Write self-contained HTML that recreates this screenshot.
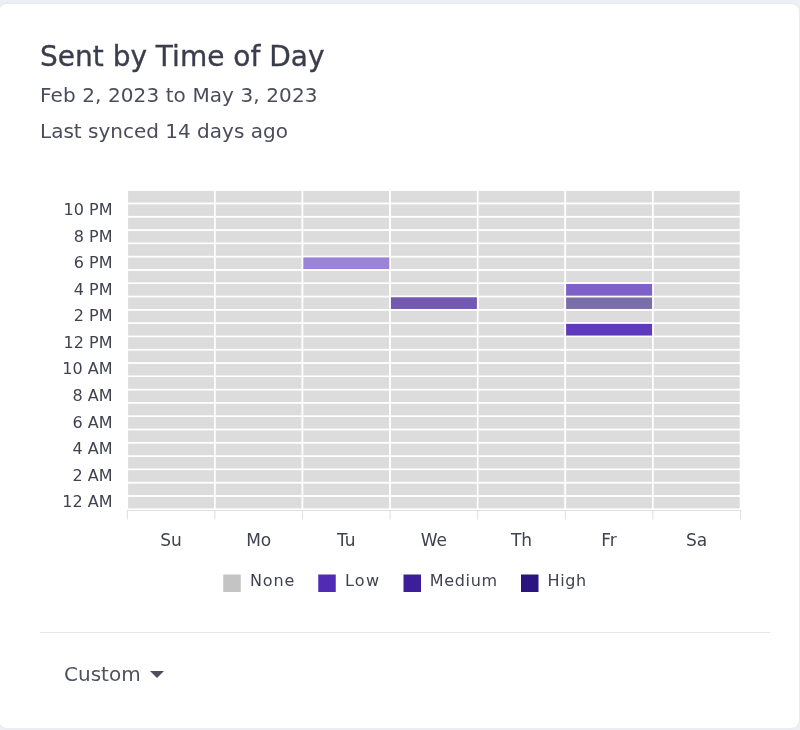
<!DOCTYPE html>
<html><head><meta charset="utf-8"><title>Sent by Time of Day</title>
<style>
html,body{margin:0;padding:0;}
body{width:800px;height:730px;background:#eff0f7;overflow:hidden;position:relative;font-family:"DejaVu Sans","Liberation Sans",sans-serif;color:#3d3e4d;}
.card{position:absolute;left:-1px;top:3.5px;width:800px;height:724.5px;background:#fff;border-radius:8px;box-shadow:0 0 4px rgba(70,70,120,0.07);}
.t{position:absolute;left:40px;white-space:nowrap;margin:0;}
h1.t{-webkit-text-stroke:0.35px #3c3d4c;top:36.8px;font-size:28px;line-height:40px;font-weight:500;color:#3c3d4c;}
.s1{letter-spacing:0.1px;top:83.4px;font-size:20px;line-height:24px;color:#4b4c5b;}
.s2{top:119.4px;font-size:20px;line-height:24px;color:#4b4c5b;}
svg{position:absolute;left:0;top:0;}
svg text{font-family:"DejaVu Sans","Liberation Sans",sans-serif;font-size:16px;fill:#414250;}
svg .xl text{font-size:17px;}
.hr{position:absolute;left:40px;top:632px;width:730px;height:1px;background:#e7e7ea;}
.custom{top:662px;left:64px;font-size:20px;line-height:24px;color:#50515f;}
.caret{position:absolute;left:150.3px;top:670.6px;width:0;height:0;border-left:7.2px solid transparent;border-right:7.2px solid transparent;border-top:7.4px solid #4e4d5c;}
</style></head><body>
<div class="card"></div>
<h1 class="t">Sent by Time of Day</h1>
<p class="t s1">Feb 2, 2023 to May 3, 2023</p>
<p class="t s2">Last synced 14 days ago</p>
<svg width="800" height="730" viewBox="0 0 800 730">
<g stroke="#fff" stroke-width="1.6">
<rect x="127.30" y="495.90" width="87.60" height="13.30" fill="#dcdcdc"/>
<rect x="127.30" y="482.61" width="87.60" height="13.30" fill="#dcdcdc"/>
<rect x="127.30" y="469.31" width="87.60" height="13.30" fill="#dcdcdc"/>
<rect x="127.30" y="456.02" width="87.60" height="13.30" fill="#dcdcdc"/>
<rect x="127.30" y="442.72" width="87.60" height="13.30" fill="#dcdcdc"/>
<rect x="127.30" y="429.42" width="87.60" height="13.30" fill="#dcdcdc"/>
<rect x="127.30" y="416.13" width="87.60" height="13.30" fill="#dcdcdc"/>
<rect x="127.30" y="402.83" width="87.60" height="13.30" fill="#dcdcdc"/>
<rect x="127.30" y="389.54" width="87.60" height="13.30" fill="#dcdcdc"/>
<rect x="127.30" y="376.24" width="87.60" height="13.30" fill="#dcdcdc"/>
<rect x="127.30" y="362.95" width="87.60" height="13.30" fill="#dcdcdc"/>
<rect x="127.30" y="349.65" width="87.60" height="13.30" fill="#dcdcdc"/>
<rect x="127.30" y="336.35" width="87.60" height="13.30" fill="#dcdcdc"/>
<rect x="127.30" y="323.06" width="87.60" height="13.30" fill="#dcdcdc"/>
<rect x="127.30" y="309.76" width="87.60" height="13.30" fill="#dcdcdc"/>
<rect x="127.30" y="296.47" width="87.60" height="13.30" fill="#dcdcdc"/>
<rect x="127.30" y="283.17" width="87.60" height="13.30" fill="#dcdcdc"/>
<rect x="127.30" y="269.88" width="87.60" height="13.30" fill="#dcdcdc"/>
<rect x="127.30" y="256.58" width="87.60" height="13.30" fill="#dcdcdc"/>
<rect x="127.30" y="243.28" width="87.60" height="13.30" fill="#dcdcdc"/>
<rect x="127.30" y="229.99" width="87.60" height="13.30" fill="#dcdcdc"/>
<rect x="127.30" y="216.69" width="87.60" height="13.30" fill="#dcdcdc"/>
<rect x="127.30" y="203.40" width="87.60" height="13.30" fill="#dcdcdc"/>
<rect x="127.30" y="190.10" width="87.60" height="13.30" fill="#dcdcdc"/>
<rect x="214.90" y="495.90" width="87.60" height="13.30" fill="#dcdcdc"/>
<rect x="214.90" y="482.61" width="87.60" height="13.30" fill="#dcdcdc"/>
<rect x="214.90" y="469.31" width="87.60" height="13.30" fill="#dcdcdc"/>
<rect x="214.90" y="456.02" width="87.60" height="13.30" fill="#dcdcdc"/>
<rect x="214.90" y="442.72" width="87.60" height="13.30" fill="#dcdcdc"/>
<rect x="214.90" y="429.42" width="87.60" height="13.30" fill="#dcdcdc"/>
<rect x="214.90" y="416.13" width="87.60" height="13.30" fill="#dcdcdc"/>
<rect x="214.90" y="402.83" width="87.60" height="13.30" fill="#dcdcdc"/>
<rect x="214.90" y="389.54" width="87.60" height="13.30" fill="#dcdcdc"/>
<rect x="214.90" y="376.24" width="87.60" height="13.30" fill="#dcdcdc"/>
<rect x="214.90" y="362.95" width="87.60" height="13.30" fill="#dcdcdc"/>
<rect x="214.90" y="349.65" width="87.60" height="13.30" fill="#dcdcdc"/>
<rect x="214.90" y="336.35" width="87.60" height="13.30" fill="#dcdcdc"/>
<rect x="214.90" y="323.06" width="87.60" height="13.30" fill="#dcdcdc"/>
<rect x="214.90" y="309.76" width="87.60" height="13.30" fill="#dcdcdc"/>
<rect x="214.90" y="296.47" width="87.60" height="13.30" fill="#dcdcdc"/>
<rect x="214.90" y="283.17" width="87.60" height="13.30" fill="#dcdcdc"/>
<rect x="214.90" y="269.88" width="87.60" height="13.30" fill="#dcdcdc"/>
<rect x="214.90" y="256.58" width="87.60" height="13.30" fill="#dcdcdc"/>
<rect x="214.90" y="243.28" width="87.60" height="13.30" fill="#dcdcdc"/>
<rect x="214.90" y="229.99" width="87.60" height="13.30" fill="#dcdcdc"/>
<rect x="214.90" y="216.69" width="87.60" height="13.30" fill="#dcdcdc"/>
<rect x="214.90" y="203.40" width="87.60" height="13.30" fill="#dcdcdc"/>
<rect x="214.90" y="190.10" width="87.60" height="13.30" fill="#dcdcdc"/>
<rect x="302.50" y="495.90" width="87.60" height="13.30" fill="#dcdcdc"/>
<rect x="302.50" y="482.61" width="87.60" height="13.30" fill="#dcdcdc"/>
<rect x="302.50" y="469.31" width="87.60" height="13.30" fill="#dcdcdc"/>
<rect x="302.50" y="456.02" width="87.60" height="13.30" fill="#dcdcdc"/>
<rect x="302.50" y="442.72" width="87.60" height="13.30" fill="#dcdcdc"/>
<rect x="302.50" y="429.42" width="87.60" height="13.30" fill="#dcdcdc"/>
<rect x="302.50" y="416.13" width="87.60" height="13.30" fill="#dcdcdc"/>
<rect x="302.50" y="402.83" width="87.60" height="13.30" fill="#dcdcdc"/>
<rect x="302.50" y="389.54" width="87.60" height="13.30" fill="#dcdcdc"/>
<rect x="302.50" y="376.24" width="87.60" height="13.30" fill="#dcdcdc"/>
<rect x="302.50" y="362.95" width="87.60" height="13.30" fill="#dcdcdc"/>
<rect x="302.50" y="349.65" width="87.60" height="13.30" fill="#dcdcdc"/>
<rect x="302.50" y="336.35" width="87.60" height="13.30" fill="#dcdcdc"/>
<rect x="302.50" y="323.06" width="87.60" height="13.30" fill="#dcdcdc"/>
<rect x="302.50" y="309.76" width="87.60" height="13.30" fill="#dcdcdc"/>
<rect x="302.50" y="296.47" width="87.60" height="13.30" fill="#dcdcdc"/>
<rect x="302.50" y="283.17" width="87.60" height="13.30" fill="#dcdcdc"/>
<rect x="302.50" y="269.88" width="87.60" height="13.30" fill="#dcdcdc"/>
<rect x="302.50" y="243.28" width="87.60" height="13.30" fill="#dcdcdc"/>
<rect x="302.50" y="229.99" width="87.60" height="13.30" fill="#dcdcdc"/>
<rect x="302.50" y="216.69" width="87.60" height="13.30" fill="#dcdcdc"/>
<rect x="302.50" y="203.40" width="87.60" height="13.30" fill="#dcdcdc"/>
<rect x="302.50" y="190.10" width="87.60" height="13.30" fill="#dcdcdc"/>
<rect x="390.10" y="495.90" width="87.60" height="13.30" fill="#dcdcdc"/>
<rect x="390.10" y="482.61" width="87.60" height="13.30" fill="#dcdcdc"/>
<rect x="390.10" y="469.31" width="87.60" height="13.30" fill="#dcdcdc"/>
<rect x="390.10" y="456.02" width="87.60" height="13.30" fill="#dcdcdc"/>
<rect x="390.10" y="442.72" width="87.60" height="13.30" fill="#dcdcdc"/>
<rect x="390.10" y="429.42" width="87.60" height="13.30" fill="#dcdcdc"/>
<rect x="390.10" y="416.13" width="87.60" height="13.30" fill="#dcdcdc"/>
<rect x="390.10" y="402.83" width="87.60" height="13.30" fill="#dcdcdc"/>
<rect x="390.10" y="389.54" width="87.60" height="13.30" fill="#dcdcdc"/>
<rect x="390.10" y="376.24" width="87.60" height="13.30" fill="#dcdcdc"/>
<rect x="390.10" y="362.95" width="87.60" height="13.30" fill="#dcdcdc"/>
<rect x="390.10" y="349.65" width="87.60" height="13.30" fill="#dcdcdc"/>
<rect x="390.10" y="336.35" width="87.60" height="13.30" fill="#dcdcdc"/>
<rect x="390.10" y="323.06" width="87.60" height="13.30" fill="#dcdcdc"/>
<rect x="390.10" y="309.76" width="87.60" height="13.30" fill="#dcdcdc"/>
<rect x="390.10" y="283.17" width="87.60" height="13.30" fill="#dcdcdc"/>
<rect x="390.10" y="269.88" width="87.60" height="13.30" fill="#dcdcdc"/>
<rect x="390.10" y="256.58" width="87.60" height="13.30" fill="#dcdcdc"/>
<rect x="390.10" y="243.28" width="87.60" height="13.30" fill="#dcdcdc"/>
<rect x="390.10" y="229.99" width="87.60" height="13.30" fill="#dcdcdc"/>
<rect x="390.10" y="216.69" width="87.60" height="13.30" fill="#dcdcdc"/>
<rect x="390.10" y="203.40" width="87.60" height="13.30" fill="#dcdcdc"/>
<rect x="390.10" y="190.10" width="87.60" height="13.30" fill="#dcdcdc"/>
<rect x="477.70" y="495.90" width="87.60" height="13.30" fill="#dcdcdc"/>
<rect x="477.70" y="482.61" width="87.60" height="13.30" fill="#dcdcdc"/>
<rect x="477.70" y="469.31" width="87.60" height="13.30" fill="#dcdcdc"/>
<rect x="477.70" y="456.02" width="87.60" height="13.30" fill="#dcdcdc"/>
<rect x="477.70" y="442.72" width="87.60" height="13.30" fill="#dcdcdc"/>
<rect x="477.70" y="429.42" width="87.60" height="13.30" fill="#dcdcdc"/>
<rect x="477.70" y="416.13" width="87.60" height="13.30" fill="#dcdcdc"/>
<rect x="477.70" y="402.83" width="87.60" height="13.30" fill="#dcdcdc"/>
<rect x="477.70" y="389.54" width="87.60" height="13.30" fill="#dcdcdc"/>
<rect x="477.70" y="376.24" width="87.60" height="13.30" fill="#dcdcdc"/>
<rect x="477.70" y="362.95" width="87.60" height="13.30" fill="#dcdcdc"/>
<rect x="477.70" y="349.65" width="87.60" height="13.30" fill="#dcdcdc"/>
<rect x="477.70" y="336.35" width="87.60" height="13.30" fill="#dcdcdc"/>
<rect x="477.70" y="323.06" width="87.60" height="13.30" fill="#dcdcdc"/>
<rect x="477.70" y="309.76" width="87.60" height="13.30" fill="#dcdcdc"/>
<rect x="477.70" y="296.47" width="87.60" height="13.30" fill="#dcdcdc"/>
<rect x="477.70" y="283.17" width="87.60" height="13.30" fill="#dcdcdc"/>
<rect x="477.70" y="269.88" width="87.60" height="13.30" fill="#dcdcdc"/>
<rect x="477.70" y="256.58" width="87.60" height="13.30" fill="#dcdcdc"/>
<rect x="477.70" y="243.28" width="87.60" height="13.30" fill="#dcdcdc"/>
<rect x="477.70" y="229.99" width="87.60" height="13.30" fill="#dcdcdc"/>
<rect x="477.70" y="216.69" width="87.60" height="13.30" fill="#dcdcdc"/>
<rect x="477.70" y="203.40" width="87.60" height="13.30" fill="#dcdcdc"/>
<rect x="477.70" y="190.10" width="87.60" height="13.30" fill="#dcdcdc"/>
<rect x="565.30" y="495.90" width="87.60" height="13.30" fill="#dcdcdc"/>
<rect x="565.30" y="482.61" width="87.60" height="13.30" fill="#dcdcdc"/>
<rect x="565.30" y="469.31" width="87.60" height="13.30" fill="#dcdcdc"/>
<rect x="565.30" y="456.02" width="87.60" height="13.30" fill="#dcdcdc"/>
<rect x="565.30" y="442.72" width="87.60" height="13.30" fill="#dcdcdc"/>
<rect x="565.30" y="429.42" width="87.60" height="13.30" fill="#dcdcdc"/>
<rect x="565.30" y="416.13" width="87.60" height="13.30" fill="#dcdcdc"/>
<rect x="565.30" y="402.83" width="87.60" height="13.30" fill="#dcdcdc"/>
<rect x="565.30" y="389.54" width="87.60" height="13.30" fill="#dcdcdc"/>
<rect x="565.30" y="376.24" width="87.60" height="13.30" fill="#dcdcdc"/>
<rect x="565.30" y="362.95" width="87.60" height="13.30" fill="#dcdcdc"/>
<rect x="565.30" y="349.65" width="87.60" height="13.30" fill="#dcdcdc"/>
<rect x="565.30" y="336.35" width="87.60" height="13.30" fill="#dcdcdc"/>
<rect x="565.30" y="309.76" width="87.60" height="13.30" fill="#dcdcdc"/>
<rect x="565.30" y="269.88" width="87.60" height="13.30" fill="#dcdcdc"/>
<rect x="565.30" y="256.58" width="87.60" height="13.30" fill="#dcdcdc"/>
<rect x="565.30" y="243.28" width="87.60" height="13.30" fill="#dcdcdc"/>
<rect x="565.30" y="229.99" width="87.60" height="13.30" fill="#dcdcdc"/>
<rect x="565.30" y="216.69" width="87.60" height="13.30" fill="#dcdcdc"/>
<rect x="565.30" y="203.40" width="87.60" height="13.30" fill="#dcdcdc"/>
<rect x="565.30" y="190.10" width="87.60" height="13.30" fill="#dcdcdc"/>
<rect x="652.90" y="495.90" width="87.60" height="13.30" fill="#dcdcdc"/>
<rect x="652.90" y="482.61" width="87.60" height="13.30" fill="#dcdcdc"/>
<rect x="652.90" y="469.31" width="87.60" height="13.30" fill="#dcdcdc"/>
<rect x="652.90" y="456.02" width="87.60" height="13.30" fill="#dcdcdc"/>
<rect x="652.90" y="442.72" width="87.60" height="13.30" fill="#dcdcdc"/>
<rect x="652.90" y="429.42" width="87.60" height="13.30" fill="#dcdcdc"/>
<rect x="652.90" y="416.13" width="87.60" height="13.30" fill="#dcdcdc"/>
<rect x="652.90" y="402.83" width="87.60" height="13.30" fill="#dcdcdc"/>
<rect x="652.90" y="389.54" width="87.60" height="13.30" fill="#dcdcdc"/>
<rect x="652.90" y="376.24" width="87.60" height="13.30" fill="#dcdcdc"/>
<rect x="652.90" y="362.95" width="87.60" height="13.30" fill="#dcdcdc"/>
<rect x="652.90" y="349.65" width="87.60" height="13.30" fill="#dcdcdc"/>
<rect x="652.90" y="336.35" width="87.60" height="13.30" fill="#dcdcdc"/>
<rect x="652.90" y="323.06" width="87.60" height="13.30" fill="#dcdcdc"/>
<rect x="652.90" y="309.76" width="87.60" height="13.30" fill="#dcdcdc"/>
<rect x="652.90" y="296.47" width="87.60" height="13.30" fill="#dcdcdc"/>
<rect x="652.90" y="283.17" width="87.60" height="13.30" fill="#dcdcdc"/>
<rect x="652.90" y="269.88" width="87.60" height="13.30" fill="#dcdcdc"/>
<rect x="652.90" y="256.58" width="87.60" height="13.30" fill="#dcdcdc"/>
<rect x="652.90" y="243.28" width="87.60" height="13.30" fill="#dcdcdc"/>
<rect x="652.90" y="229.99" width="87.60" height="13.30" fill="#dcdcdc"/>
<rect x="652.90" y="216.69" width="87.60" height="13.30" fill="#dcdcdc"/>
<rect x="652.90" y="203.40" width="87.60" height="13.30" fill="#dcdcdc"/>
<rect x="652.90" y="190.10" width="87.60" height="13.30" fill="#dcdcdc"/>
<rect x="302.50" y="256.58" width="87.60" height="13.30" fill="#9b84d6"/>
<rect x="390.10" y="296.47" width="87.60" height="13.30" fill="#7359b0"/>
<rect x="565.30" y="323.06" width="87.60" height="13.30" fill="#5f3abd"/>
<rect x="565.30" y="296.47" width="87.60" height="13.30" fill="#7b6fab"/>
<rect x="565.30" y="283.17" width="87.60" height="13.30" fill="#7d61c8"/>
</g>
<path d="M126.8 510.5H741M127.30 510.5V519.5M214.90 510.5V519.5M302.50 510.5V519.5M390.10 510.5V519.5M477.70 510.5V519.5M565.30 510.5V519.5M652.90 510.5V519.5M740.50 510.5V519.5" fill="none" stroke="#dfdfe4" stroke-width="1"/>
<g class="yl"><text x="112.5" y="507.45" text-anchor="end">12 AM</text><text x="112.5" y="480.86" text-anchor="end">2 AM</text><text x="112.5" y="454.27" text-anchor="end">4 AM</text><text x="112.5" y="427.68" text-anchor="end">6 AM</text><text x="112.5" y="401.09" text-anchor="end">8 AM</text><text x="112.5" y="374.49" text-anchor="end">10 AM</text><text x="112.5" y="347.90" text-anchor="end">12 PM</text><text x="112.5" y="321.31" text-anchor="end">2 PM</text><text x="112.5" y="294.72" text-anchor="end">4 PM</text><text x="112.5" y="268.13" text-anchor="end">6 PM</text><text x="112.5" y="241.54" text-anchor="end">8 PM</text><text x="112.5" y="214.94" text-anchor="end">10 PM</text></g>
<g class="xl"><text x="171.10" y="545.7" text-anchor="middle">Su</text><text x="258.70" y="545.7" text-anchor="middle">Mo</text><text x="346.30" y="545.7" text-anchor="middle">Tu</text><text x="433.90" y="545.7" text-anchor="middle">We</text><text x="521.50" y="545.7" text-anchor="middle">Th</text><text x="609.10" y="545.7" text-anchor="middle">Fr</text><text x="696.70" y="545.7" text-anchor="middle">Sa</text></g>
<g>
<rect x="223.25" y="574.5" width="17.5" height="17.5" fill="#c4c4c4"/><text x="249.9" y="585.8" letter-spacing="0.9">None</text>
<rect x="318.25" y="574.5" width="17.5" height="17.5" fill="#512bb5"/><text x="344.9" y="585.8" letter-spacing="1.35">Low</text>
<rect x="403.5" y="574.5" width="17.5" height="17.5" fill="#3c1e9a"/><text x="429.7" y="585.8" letter-spacing="0.7">Medium</text>
<rect x="521" y="574.5" width="17.5" height="17.5" fill="#2a1580"/><text x="547.5" y="585.8" letter-spacing="0.6">High</text>
</g>
</svg>
<div class="hr"></div>
<div class="t custom">Custom</div>
<div class="caret"></div>
</body></html>
